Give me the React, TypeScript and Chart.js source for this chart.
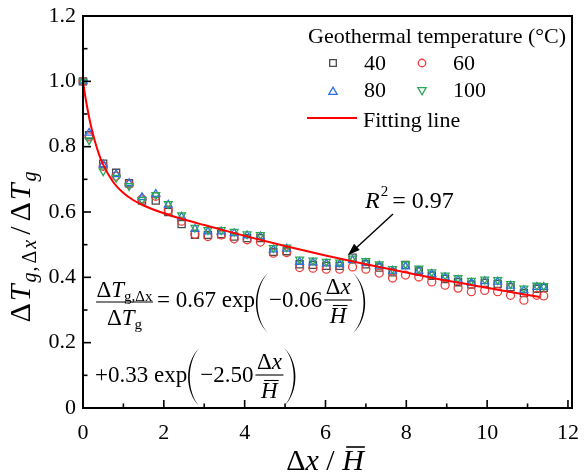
import React, { useEffect, useRef } from 'react';
import { Chart, registerables } from 'chart.js';
Chart.register(...registerables);

const X_VALUES = [0, 0.15, 0.5, 0.82, 1.14, 1.46, 1.8, 2.11, 2.44, 2.77, 3.09, 3.42, 3.74, 4.06, 4.39, 4.71, 5.04, 5.36, 5.69, 6.02, 6.35, 6.67, 7.0, 7.33, 7.66, 7.98, 8.31, 8.63, 8.96, 9.28, 9.61, 9.94, 10.26, 10.58, 10.91, 11.23, 11.4];
const T40 = [1.0, 0.835, 0.748, 0.72, 0.688, 0.635, 0.635, 0.6, 0.563, 0.53, 0.53, 0.532, 0.525, 0.52, 0.52, 0.478, 0.48, 0.44, 0.438, 0.435, 0.435, 0.46, 0.44, 0.43, 0.415, 0.438, 0.418, 0.405, 0.395, 0.385, 0.378, 0.383, 0.38, 0.37, 0.352, 0.365, 0.368];
const T60 = [1.0, 0.83, 0.74, 0.71, 0.685, 0.64, 0.648, 0.606, 0.572, 0.532, 0.525, 0.53, 0.518, 0.515, 0.508, 0.474, 0.476, 0.43, 0.428, 0.425, 0.425, 0.432, 0.425, 0.413, 0.398, 0.407, 0.401, 0.386, 0.376, 0.367, 0.356, 0.36, 0.356, 0.345, 0.33, 0.345, 0.343];
const T80 = [1.0, 0.842, 0.745, 0.715, 0.688, 0.645, 0.655, 0.622, 0.585, 0.548, 0.54, 0.54, 0.535, 0.528, 0.525, 0.485, 0.487, 0.447, 0.445, 0.442, 0.44, 0.452, 0.444, 0.435, 0.42, 0.433, 0.42, 0.41, 0.4, 0.392, 0.383, 0.388, 0.386, 0.374, 0.36, 0.37, 0.37];
const T100 = [1.0, 0.82, 0.725, 0.705, 0.68, 0.637, 0.652, 0.625, 0.59, 0.552, 0.545, 0.545, 0.54, 0.532, 0.53, 0.49, 0.492, 0.455, 0.452, 0.448, 0.446, 0.458, 0.45, 0.44, 0.426, 0.44, 0.427, 0.416, 0.406, 0.398, 0.39, 0.394, 0.392, 0.38, 0.366, 0.375, 0.374];
const FIT_X = [0, 0.05, 0.1, 0.2, 0.3, 0.4, 0.5, 0.75, 1, 1.25, 1.5, 2, 2.5, 3, 4, 5, 6, 7, 8, 9, 10, 11, 11.3];
const FIT_Y = [1.0, 0.959, 0.923, 0.862, 0.814, 0.775, 0.745, 0.691, 0.658, 0.636, 0.62, 0.596, 0.577, 0.56, 0.527, 0.496, 0.467, 0.44, 0.415, 0.39, 0.368, 0.346, 0.34];
const SERIES_LABELS = ['40', '60', '80', '100'];
const LEGEND_TITLE = 'Geothermal temperature (°C)';
const FIT_LABEL = 'Fitting line';
const X_TICKS = [0, 2, 4, 6, 8, 10, 12];
const X_MINOR = [1, 3, 5, 7, 9, 11];
const Y_TICKS = [0, 0.2, 0.4, 0.6, 0.8, 1.0, 1.2];
const Y_MINOR = [0.1, 0.3, 0.5, 0.7, 0.9, 1.1];

const C40 = '#4a4a4a';
const C60 = '#f03c3c';
const C80 = '#2a6ee6';
const C100 = '#2ea65a';
const CFIT = '#ff0000';

const SERIF = '"Liberation Serif", "Times New Roman", serif';
const F = (size: number, italic = false) => `${italic ? 'italic ' : ''}${size}px ${SERIF}`;

type Part = { t: string; f: string; dy?: number; gap?: number };
function seqWidth(ctx: CanvasRenderingContext2D, parts: Part[]) {
  let w = 0;
  for (const p of parts) { ctx.font = p.f; w += ctx.measureText(p.t).width + (p.gap || 0); }
  return w;
}
function drawSeq(ctx: CanvasRenderingContext2D, x: number, y: number, parts: Part[]) {
  let cx = x;
  for (const p of parts) {
    ctx.font = p.f;
    ctx.fillText(p.t, cx, y + (p.dy || 0));
    cx += ctx.measureText(p.t).width + (p.gap || 0);
  }
  return cx;
}
function paren(ctx: CanvasRenderingContext2D, xl: number, xr: number, top: number, bottom: number, open: boolean) {
  const h = bottom - top;
  const w = xr - xl;
  ctx.beginPath();
  if (open) {
    const xo = xr - w / 0.75;
    const xi = xr - (w - 1.6) / 0.75;
    ctx.moveTo(xr, top);
    ctx.bezierCurveTo(xo, top + h * 0.25, xo, bottom - h * 0.25, xr, bottom);
    ctx.bezierCurveTo(xi, bottom - h * 0.25, xi, top + h * 0.25, xr, top);
  } else {
    const xo = xl + w / 0.75;
    const xi = xl + (w - 1.6) / 0.75;
    ctx.moveTo(xl, top);
    ctx.bezierCurveTo(xo, top + h * 0.25, xo, bottom - h * 0.25, xl, bottom);
    ctx.bezierCurveTo(xi, bottom - h * 0.25, xi, top + h * 0.25, xl, top);
  }
  ctx.fill();
}
function hbar(ctx: CanvasRenderingContext2D, x0: number, x1: number, y: number, lw = 1.2) {
  ctx.beginPath(); ctx.lineWidth = lw; ctx.moveTo(x0, y); ctx.lineTo(x1, y); ctx.stroke();
}
function dxOverH(ctx: CanvasRenderingContext2D, x0: number, barY: number, size: number) {
  const num: Part[] = [{ t: 'Δ', f: F(size) }, { t: 'x', f: F(size, true) }];
  const den: Part[] = [{ t: 'H', f: F(size, true) }];
  const wn = seqWidth(ctx, num);
  const wd = seqWidth(ctx, den);
  const w = Math.max(wn, wd) + 3;
  hbar(ctx, x0, x0 + w, barY, 1.1);
  drawSeq(ctx, x0 + (w - wn) / 2, barY - 6, num);
  const dx = x0 + (w - wd) / 2;
  drawSeq(ctx, dx, barY + 23, den);
  hbar(ctx, dx + 3, dx + wd + 1, barY + 5.5, 1.1);
  return x0 + w;
}
function marker(ctx: CanvasRenderingContext2D, kind: string, x: number, y: number, color: string, r: number) {
  ctx.save();
  ctx.strokeStyle = color; ctx.lineWidth = 1.3;
  ctx.beginPath();
  if (kind === 'rect') ctx.rect(x - r * 0.75, y - r * 0.75, r * 1.5, r * 1.5);
  else if (kind === 'circle') ctx.arc(x, y, r * 0.85, 0, Math.PI * 2);
  else if (kind === 'tri') { ctx.moveTo(x, y - r); ctx.lineTo(x + r * 0.87, y + r * 0.5); ctx.lineTo(x - r * 0.87, y + r * 0.5); ctx.closePath(); }
  else { ctx.moveTo(x, y + r); ctx.lineTo(x + r * 0.87, y - r * 0.5); ctx.lineTo(x - r * 0.87, y - r * 0.5); ctx.closePath(); }
  ctx.stroke();
  ctx.restore();
}

const decorPlugin = {
  id: 'decor',
  afterDraw(chart: any) {
    const { ctx, chartArea: a, scales } = chart;
    const xs = scales.x, ys = scales.y;
    ctx.save();
    ctx.strokeStyle = '#000';
    ctx.fillStyle = '#000';
    ctx.lineWidth = 2;
    ctx.strokeRect(a.left, a.top, a.right - a.left, a.bottom - a.top);
    ctx.lineWidth = 1.6;
    const tk = (x0: number, y0: number, x1: number, y1: number) => { ctx.beginPath(); ctx.moveTo(x0, y0); ctx.lineTo(x1, y1); ctx.stroke(); };
    X_TICKS.forEach(v => { const p = xs.getPixelForValue(v); tk(p, a.bottom, p, a.bottom - 8); });
    X_MINOR.forEach(v => { const p = xs.getPixelForValue(v); tk(p, a.bottom, p, a.bottom - 4.5); });
    Y_TICKS.forEach(v => { const p = ys.getPixelForValue(v); tk(a.left, p, a.left + 8, p); });
    Y_MINOR.forEach(v => { const p = ys.getPixelForValue(v); tk(a.left, p, a.left + 4.5, p); });

    ctx.textBaseline = 'alphabetic';
    ctx.textAlign = 'left';
    const xt: Part[] = [{ t: 'Δ', f: F(30) }, { t: 'x', f: F(30, true) }, { t: ' / ', f: F(30) }, { t: 'H', f: F(30, true) }];
    const xw = seqWidth(ctx, xt);
    const xStart = 325 - xw / 2;
    drawSeq(ctx, xStart, 470, xt);
    ctx.font = F(30, true);
    const hW = ctx.measureText('H').width;
    hbar(ctx, xStart + xw - hW + 4, xStart + xw + 1, 447, 1.6);

    ctx.save();
    ctx.translate(30, 247);
    ctx.rotate(-Math.PI / 2);
    const yt: Part[] = [
      { t: 'Δ', f: F(30), gap: 2 }, { t: 'T', f: F(30, true), gap: 2 },
      { t: 'g', f: F(20, true), dy: 6, gap: 1 }, { t: ',', f: F(20), dy: 6, gap: 3 }, { t: 'Δ', f: F(20), dy: 6, gap: 2 }, { t: 'x', f: F(20, true), dy: 6, gap: 5 },
      { t: '/', f: F(30), gap: 5 },
      { t: 'Δ', f: F(30), gap: 2 }, { t: 'T', f: F(30, true), gap: 2 }, { t: 'g', f: F(20, true), dy: 6 },
    ];
    const yw = seqWidth(ctx, yt);
    drawSeq(ctx, -yw / 2, 0, yt);
    ctx.restore();

    ctx.font = F(22);
    ctx.fillText(LEGEND_TITLE, 308, 43);
    marker(ctx, 'rect', 333, 63, C40, 4.4);
    marker(ctx, 'circle', 422, 63, C60, 4.4);
    marker(ctx, 'tri', 333, 92, C80, 4.8);
    marker(ctx, 'dtri', 422, 90, C100, 4.8);
    ctx.font = F(22);
    ctx.fillText(SERIES_LABELS[0], 364, 70);
    ctx.fillText(SERIES_LABELS[1], 453, 70);
    ctx.fillText(SERIES_LABELS[2], 364, 97);
    ctx.fillText(SERIES_LABELS[3], 453, 97);
    ctx.strokeStyle = CFIT; ctx.lineWidth = 2;
    tk(307, 118, 357, 118);
    ctx.strokeStyle = '#000';
    ctx.fillText(FIT_LABEL, 363, 127);

    let rx = drawSeq(ctx, 365, 208, [{ t: 'R', f: F(24, true), gap: 1 }]);
    rx = drawSeq(ctx, rx, 196, [{ t: '2', f: F(15), gap: 4 }]);
    drawSeq(ctx, rx, 208, [{ t: '= 0.97', f: F(24) }]);
    ctx.lineWidth = 1.4;
    tk(393, 214, 355, 249);
    ctx.beginPath();
    const tipX = 348, tipY = 255;
    const ang = Math.atan2(tipY - 214, tipX - 393);
    const L = 12, W = 4.2;
    const bx = tipX - L * Math.cos(ang), by = tipY - L * Math.sin(ang);
    ctx.moveTo(tipX, tipY);
    ctx.lineTo(bx + W * Math.sin(ang), by - W * Math.cos(ang));
    ctx.lineTo(bx - W * Math.sin(ang), by + W * Math.cos(ang));
    ctx.closePath();
    ctx.fill();

    const S = 23, SS = 15;
    const num: Part[] = [{ t: 'Δ', f: F(S) }, { t: 'T', f: F(S, true) }, { t: 'g,Δx', f: F(SS), dy: 4 }];
    const den: Part[] = [{ t: 'Δ', f: F(S) }, { t: 'T', f: F(S, true) }, { t: 'g', f: F(SS), dy: 4 }];
    const fx0 = 96, fx1 = 153, fcx = (fx0 + fx1) / 2;
    hbar(ctx, fx0, fx1, 302, 1.1);
    drawSeq(ctx, fcx - seqWidth(ctx, num) / 2, 297, num);
    drawSeq(ctx, fcx - seqWidth(ctx, den) / 2, 325, den);
    let ex = drawSeq(ctx, 157, 307, [{ t: '= 0.67 exp', f: F(S) }]);
    paren(ctx, ex + 1, ex + 13, 273, 333, true);
    ex = drawSeq(ctx, ex + 14, 307, [{ t: '−0.06', f: F(S), gap: 2 }]);
    ex = dxOverH(ctx, ex, 300, S);
    paren(ctx, ex + 1, ex + 13, 273, 333, false);

    let e2 = drawSeq(ctx, 95, 382, [{ t: '+0.33 exp', f: F(S) }]);
    paren(ctx, e2 + 1, e2 + 12, 348, 406, true);
    e2 = drawSeq(ctx, e2 + 13, 382, [{ t: '−2.50', f: F(S), gap: 2 }]);
    e2 = dxOverH(ctx, e2, 375, S);
    paren(ctx, e2 + 1, e2 + 12, 348, 406, false);

    ctx.restore();
  },
};

function pts(ys: number[]) { return X_VALUES.map((x, i) => ({ x, y: ys[i] })); }

export default function App() {
  const ref = useRef<HTMLCanvasElement>(null);
  useEffect(() => {
    document.body.style.margin = '0';
    const common = { backgroundColor: 'rgba(0,0,0,0)', borderWidth: 1.3, clip: false as any, showLine: false };
    const chart = new Chart(ref.current as HTMLCanvasElement, {
      type: 'scatter',
      data: {
        datasets: [
          { label: FIT_LABEL, data: FIT_X.map((x, i) => ({ x, y: FIT_Y[i] })), showLine: true, borderColor: CFIT, borderWidth: 2, pointRadius: 0, cubicInterpolationMode: 'monotone', fill: false, order: 0 } as any,
          { ...common, label: SERIES_LABELS[3], data: pts(T100), pointStyle: 'triangle', rotation: 180, pointRadius: 4.5, borderColor: C100, order: 1 } as any,
          { ...common, label: SERIES_LABELS[2], data: pts(T80), pointStyle: 'triangle', pointRadius: 4.5, borderColor: C80, order: 2 } as any,
          { ...common, label: SERIES_LABELS[1], data: pts(T60), pointStyle: 'circle', pointRadius: 4, borderColor: C60, order: 3 } as any,
          { ...common, label: SERIES_LABELS[0], data: pts(T40), pointStyle: 'rect', pointRadius: 5, borderColor: C40, order: 4 } as any,
        ],
      },
      options: {
        responsive: false,
        animation: false,
        layout: { padding: { top: 16, right: 15, left: 0, bottom: 0 } },
        plugins: { legend: { display: false }, tooltip: { enabled: false } },
        scales: {
          x: {
            type: 'linear', min: 0, max: 12.1,
            afterBuildTicks: (s: any) => { s.ticks = X_TICKS.map(v => ({ value: v })); },
            afterFit: (s: any) => { s.height = 66; s.paddingLeft = 0; s.paddingRight = 0; s.paddingTop = 0; s.paddingBottom = 0; },
            ticks: { font: { family: SERIF, size: 22 }, color: '#000', padding: 12, maxRotation: 0, autoSkip: false, callback: (v: any) => String(v) },
            grid: { display: true, drawOnChartArea: false, drawTicks: false },
            border: { display: false },
          },
          y: {
            type: 'linear', min: 0, max: 1.2,
            afterBuildTicks: (s: any) => { s.ticks = Y_TICKS.map(v => ({ value: v })); },
            afterFit: (s: any) => { s.width = 83; s.paddingTop = 0; s.paddingBottom = 0; s.paddingLeft = 0; s.paddingRight = 0; },
            ticks: { font: { family: SERIF, size: 22 }, color: '#000', padding: 7, autoSkip: false, callback: (v: any) => (v === 0 ? '0' : Number(v).toFixed(1)) },
            grid: { display: true, drawOnChartArea: false, drawTicks: false },
            border: { display: false },
          },
        },
      } as any,
      plugins: [decorPlugin],
    });
    return () => chart.destroy();
  }, []);
  return (
    <div style={{ width: 587, height: 474, position: 'relative' }}>
      <canvas ref={ref} width={587} height={474} style={{ display: 'block' }} />
    </div>
  );
}
